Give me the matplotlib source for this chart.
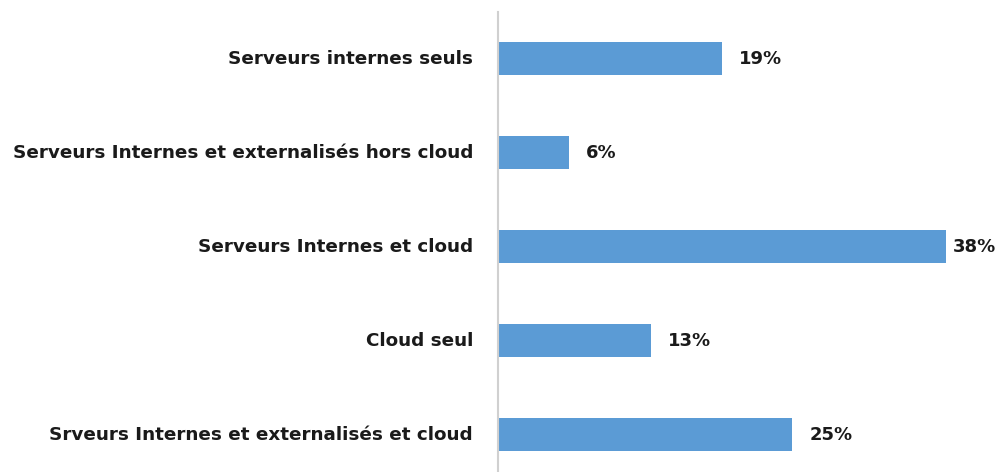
import matplotlib.pyplot as plt

categories = ['Serveurs internes seuls',
              'Serveurs Internes et externalisés hors cloud',
              'Serveurs Internes et cloud',
              'Cloud seul',
              'Srveurs Internes et externalisés et cloud']
values = [19, 6, 38, 13, 25]

fig = plt.figure(figsize=(10.01, 4.72), dpi=100)
ax = fig.add_axes([498 / 1001, 0, 503 / 1001, 460 / 472])

pos = list(range(len(categories)))
ax.barh(pos, values, height=0.36, color='#5B9BD5')

xmax = 42.7
ax.set_xlim(0, xmax)
ax.set_ylim(4 + 37.5 / 94, -46.5 / 94)

for sp in ['top', 'right', 'bottom']:
    ax.spines[sp].set_visible(False)
ax.spines['left'].set_color('#D0D0D0')
ax.spines['left'].set_linewidth(1.5)
ax.set_xticks([])
ax.set_yticks(pos)
ax.set_yticklabels(categories, fontsize=13.2, fontweight='bold', color='#1a1a1a')
for t in ax.get_yticklabels():
    t.set_verticalalignment('center')
ax.tick_params(axis='y', length=0, pad=18)

px = xmax / 503  # data units per pixel
for p, v in zip(pos, values):
    x = min(v + 17 * px, xmax - 48 * px)  # keep label inside the figure
    ax.text(x, p, f'{v}%', va='center', ha='left', fontsize=13,
            fontweight='bold', color='#1a1a1a')

fig.savefig('out.png', dpi=100)
